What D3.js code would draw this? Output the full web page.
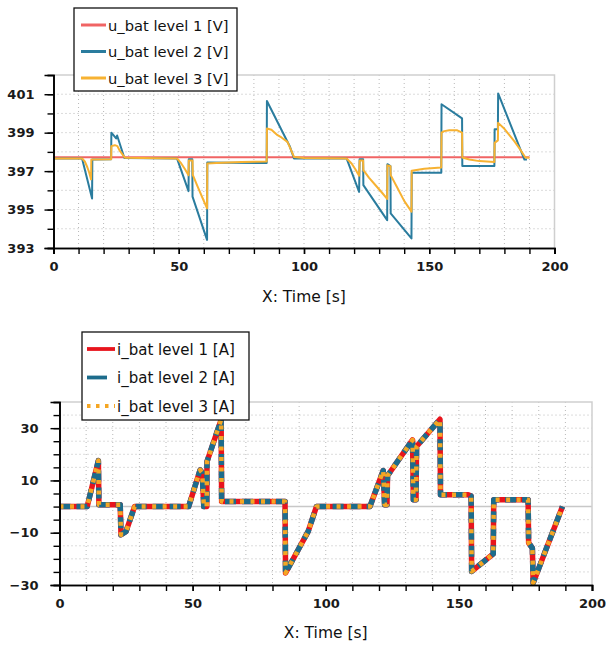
<!DOCTYPE html>
<html><head><meta charset="utf-8">
<script src="https://cdn.jsdelivr.net/npm/d3@7"></script>
<style>body{margin:0;background:#fff}svg{display:block}</style>
</head><body>
<svg id="c" width="606" height="651"></svg>
<script>
// ---------- data ----------
const xMajorTicks = [0, 50, 100, 150, 200];
const uTickLabels = [393, 395, 397, 399, 401];
const iTickLabels = [-30, -10, 10, 30];

const uLevel1Time = [0, 190];
const uLevel1 = [397.72, 397.72];

const uLevel2Time = [0, 11.4, 15.4, 15.5, 23.0, 23.1, 25.0, 25.4, 28.3, 49.3, 53.9, 54.0, 55.4, 55.5, 61.3, 61.4, 85.1, 85.2, 93.5, 94.3, 96.0, 117.0, 122.0, 122.2, 123.6, 123.7, 133.2, 133.3, 134.5, 134.6, 142.9, 143.0, 154.8, 154.9, 163.1, 163.2, 176.0, 176.1, 177.4, 177.5, 188.0, 189.0];
const uLevel2 = [397.66, 397.66, 395.58, 397.6, 397.62, 399.0, 398.7, 398.85, 397.68, 397.66, 395.96, 397.62, 397.62, 395.67, 393.42, 397.45, 397.42, 400.65, 398.5, 398.3, 397.66, 397.66, 395.92, 397.62, 397.62, 396.27, 394.45, 397.36, 397.26, 394.8, 393.5, 396.91, 396.91, 400.48, 399.74, 397.26, 397.26, 399.18, 399.18, 401.04, 397.6, 397.6];

const uLevel3Time = [0, 11.4, 12.5, 13.5, 14.3, 15.0, 15.1, 23.0, 23.1, 24.5, 25.5, 26.5, 28.5, 49.3, 51, 52.5, 53.9, 54, 55.5, 55.6, 57.5, 59.5, 61.3, 61.4, 65, 75, 85.1, 85.2, 87, 89.1, 91, 93.4, 94.5, 96, 100, 117, 119, 120.5, 122, 122.2, 123.6, 123.7, 126, 129, 131, 133.2, 133.3, 134.5, 134.6, 137, 140, 142.9, 143, 148, 154.8, 154.9, 156, 158, 161, 163.1, 163.2, 166, 170, 176, 176.1, 177.4, 177.5, 180, 182, 184, 186, 188.4, 190];
const uLevel3 = [397.66, 397.66, 397.5, 397.2, 396.9, 396.57, 397.6, 397.62, 398.3, 398.35, 398.3, 398.05, 397.7, 397.66, 397.4, 397.1, 396.79, 397.55, 397.55, 396.8, 396.2, 395.6, 395.06, 397.4, 397.42, 397.47, 397.5, 399.22, 399.15, 398.9, 398.75, 398.52, 398.2, 397.74, 397.68, 397.66, 397.4, 397.1, 396.76, 397.55, 397.55, 397.05, 396.65, 396.2, 395.9, 395.55, 397.3, 397.25, 396.79, 396.2, 395.45, 394.89, 397.02, 397.12, 397.19, 399.0, 399.08, 399.13, 399.13, 399.0, 397.71, 397.6, 397.52, 397.48, 398.47, 398.6, 399.51, 399.2, 398.87, 398.55, 398.18, 397.71, 397.7];

// all three current levels coincide
const iTime = [0, 10.4, 14.6, 14.8, 22.8, 23.1, 25.0, 28.2, 48.5, 52.8, 53.6, 54.2, 55.3, 55.4, 60.7, 60.9, 84.7, 84.9, 93.4, 96.5, 116.6, 121.6, 122.1, 123.0, 123.2, 132.6, 132.9, 133.9, 134.1, 142.9, 143.1, 153.5, 154.6, 154.8, 162.9, 163.1, 176.0, 176.2, 177.6, 177.9, 188.9];
const iLevel1 = [0, 0, 17.6, 0.7, 0.7, -10.8, -9.5, 0, 0, 14, 13, 0, 0, 17.2, 33.2, 1.9, 1.9, -25.4, -9.5, 0, 0, 13.8, 0.7, 0.7, 11.8, 25.5, 2.6, 2.6, 23, 33.4, 4.5, 4.5, 4.0, -24.8, -18.1, 2.6, 2.6, -13.9, -15.9, -29.2, 0];
const iLevel2 = iLevel1;
const iLevel3 = iLevel1;

const uNames = ["u_bat level 1 [V]", "u_bat level 2 [V]", "u_bat level 3 [V]"];
const iNames = ["i_bat level 1 [A]", "i_bat level 2 [A]", "i_bat level 3 [A]"];

// ---------- drawing ----------
const svg = d3.select("#c");
const FONT = "'DejaVu Sans', Verdana, sans-serif";

function panel(cfg) {
  const g = svg.append("g");
  const x = d3.scaleLinear().domain([0, 200]).range([cfg.left, cfg.right]);
  const y = d3.scaleLinear().domain(cfg.yDomain).range([cfg.bottom, cfg.top]);

  // grid
  const grid = g.append("g");
  grid.selectAll("line.v").data(d3.range(10, 200, 10)).join("line")
    .attr("x1", d => x(d)).attr("x2", d => x(d))
    .attr("y1", cfg.top).attr("y2", cfg.bottom)
    .attr("stroke", "#b8b8b8").attr("stroke-width", 1).attr("stroke-dasharray", "1,3");
  grid.selectAll("line.h").data(cfg.gridY.filter(v => v !== cfg.solidY)).join("line")
    .attr("x1", cfg.left).attr("x2", cfg.right)
    .attr("y1", d => y(d)).attr("y2", d => y(d))
    .attr("stroke", "#b8b8b8").attr("stroke-width", 1).attr("stroke-dasharray", "1,3");
  if (cfg.solidY !== undefined) {
    grid.append("line").attr("x1", cfg.left).attr("x2", cfg.right)
      .attr("y1", y(cfg.solidY)).attr("y2", y(cfg.solidY))
      .attr("stroke", "#c8c8c8").attr("stroke-width", 1.5);
  }
  // top / right frame
  g.append("path")
    .attr("d", `M${cfg.left},${cfg.top}H${cfg.right}V${cfg.bottom}`)
    .attr("fill", "none").attr("stroke", "#cfcfcf").attr("stroke-width", 1.5);

  // lines
  const line = d3.line().x(d => x(d[0])).y(d => y(d[1]));
  cfg.series.forEach(s => {
    const pts = s.t.map((t, i) => [t, s.v[i]]);
    g.append("path").datum(pts).attr("d", line)
      .attr("fill", "none").attr("stroke", s.color).attr("stroke-width", s.width)
      .attr("stroke-dasharray", s.dash || null)
      .attr("stroke-linejoin", "round");
  });

  // axes
  const xAxMinor = d3.axisBottom(x).tickValues(d3.range(0, 201, 10)).tickSize(6).tickFormat("");
  const xAxMajor = d3.axisBottom(x).tickValues(xMajorTicks).tickSize(6).tickPadding(8).tickFormat(d3.format("d"));
  const yAxMinor = d3.axisLeft(y).tickValues(cfg.minorY).tickSize(6).tickFormat("");
  const yAxMajor = d3.axisLeft(y).tickValues(cfg.labelY).tickSize(9).tickPadding(cfg.yPad).tickFormat(d3.format("d"));
  [[xAxMinor, "x"], [xAxMajor, "x"], [yAxMinor, "y"], [yAxMajor, "y"]].forEach(([ax, k]) => {
    const a = g.append("g").attr("transform", k === "x" ? `translate(0,${cfg.bottom})` : `translate(${cfg.left},0)`).call(ax);
    a.select(".domain").attr("stroke", "#000").attr("stroke-width", 1.6);
    a.selectAll(".tick line").attr("stroke", "#000").attr("stroke-width", 1.4);
    a.selectAll("text").attr("font-family", FONT).attr("font-size", 13)
      .attr("font-weight", "bold").attr("fill", "#1a1a1a");
  });

  // x title
  g.append("text").attr("x", (cfg.left + cfg.right) / 2).attr("y", cfg.titleY)
    .attr("text-anchor", "middle").attr("font-family", FONT).attr("font-size", 15.5)
    .attr("fill", "#111").text("X: Time [s]");

  // legend
  const L = cfg.legend;
  g.append("rect").attr("x", L.x).attr("y", L.y).attr("width", L.w).attr("height", L.h)
    .attr("fill", "#fff").attr("stroke", "#111").attr("stroke-width", 1.3);
  cfg.series.forEach((s, i) => {
    const cy = L.rows[i];
    g.append("line").attr("x1", L.sx1).attr("x2", L.sx2).attr("y1", cy).attr("y2", cy)
      .attr("stroke", s.color).attr("stroke-width", L.sw)
      .attr("stroke-dasharray", s.ldash || null);
    g.append("text").attr("x", L.tx).attr("y", cy + 5.5)
      .attr("font-family", FONT).attr("font-size", L.fs).attr("fill", "#111").text(cfg.names[i]);
  });
}

panel({
  left: 53.5, right: 554.5, top: 75, bottom: 248,
  yDomain: [393, 402],
  gridY: d3.range(394, 402, 1),
  minorY: d3.range(393, 403, 1),
  labelY: uTickLabels,
  yPad: 10,
  titleY: 302,
  names: uNames,
  series: [
    {t: uLevel1Time, v: uLevel1, color: "#f06464", width: 2.2},
    {t: uLevel2Time, v: uLevel2, color: "#2a7c9e", width: 2.0},
    {t: uLevel3Time, v: uLevel3, color: "#f7b232", width: 2.0}
  ],
  legend: {x: 74, y: 8, w: 163, h: 83, rows: [25, 51.5, 78], sx1: 81, sx2: 106, tx: 108, sw: 3, fs: 14.7}
});

panel({
  left: 59.5, right: 592, top: 402, bottom: 585,
  yDomain: [-30, 40],
  gridY: d3.range(-25, 40, 5),
  solidY: 0,
  minorY: d3.range(-30, 41, 5),
  labelY: iTickLabels,
  yPad: 12,
  titleY: 638,
  names: iNames,
  series: [
    {t: iTime, v: iLevel1, color: "#e8141c", width: 5.5},
    {t: iTime, v: iLevel2, color: "#1d6c8c", width: 5.5, dash: "11,6", ldash: "20,20"},
    {t: iTime, v: iLevel3, color: "#f5a623", width: 4.5, dash: "4,6.5", ldash: "3.5,5.5"}
  ],
  legend: {x: 82, y: 332, w: 167, h: 88, rows: [349, 377.5, 406], sx1: 87, sx2: 115, tx: 117, sw: 3.8, fs: 15}
});
</script>
</body></html>
